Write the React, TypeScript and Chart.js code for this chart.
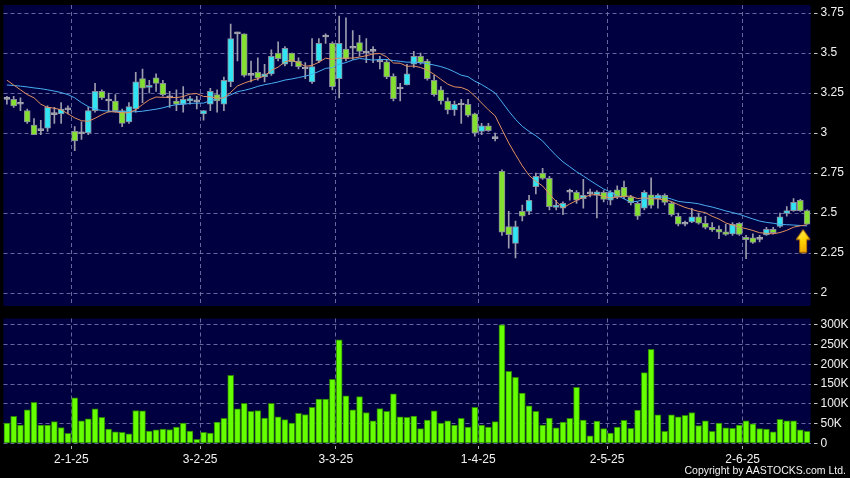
import React, { useEffect, useRef } from 'react';
import { Chart, registerables } from 'chart.js';

Chart.register(...registerables);

// ---- data (119 trading days, 16-12-24 .. 13-6-25) ----
const opens = [
  3.21, 3.21, 3.18, 3.14, 3.05, 3.015, 3.03, 3.115, 3.12, 3.145,
  3.01, 2.995, 3.0, 3.14, 3.26, 3.2, 3.2, 3.14, 3.07, 3.15,
  3.34, 3.285, 3.345, 3.31, 3.22, 3.2, 3.18, 3.2, 3.195, 3.12,
  3.18, 3.24, 3.18, 3.32, 3.62, 3.62, 3.36, 3.38, 3.35, 3.37,
  3.5, 3.43, 3.5, 3.45, 3.4, 3.32, 3.45, 3.6, 3.56, 3.34,
  3.525, 3.53, 3.565, 3.5, 3.51, 3.445, 3.445, 3.355, 3.275, 3.3,
  3.43, 3.48, 3.45, 3.33, 3.27, 3.2, 3.145, 3.175, 3.18, 3.12,
  3.01, 3.045, 2.965, 2.76, 2.415, 2.31, 2.51, 2.51, 2.665, 2.75,
  2.717, 2.535, 2.53, 2.63, 2.63, 2.59, 2.62, 2.61, 2.63, 2.58,
  2.645, 2.66, 2.6, 2.56, 2.53, 2.613, 2.59, 2.61, 2.56, 2.48,
  2.43, 2.445, 2.477, 2.436, 2.41, 2.398, 2.383, 2.37, 2.436, 2.348,
  2.345, 2.335, 2.363, 2.398, 2.416, 2.498, 2.515, 2.58, 2.515,
];
const highs = [
  3.23, 3.23, 3.22, 3.15, 3.09, 3.08, 3.17, 3.16, 3.19, 3.17,
  3.04, 3.07, 3.16, 3.31, 3.27, 3.25, 3.24, 3.15, 3.19, 3.38,
  3.4, 3.33, 3.37, 3.33, 3.26, 3.27, 3.29, 3.23, 3.23, 3.14,
  3.28, 3.27, 3.35, 3.68, 3.63, 3.62, 3.45, 3.47, 3.43, 3.52,
  3.57, 3.54, 3.5, 3.47, 3.44, 3.59, 3.59, 3.62, 3.57, 3.73,
  3.72, 3.64, 3.61, 3.59, 3.54, 3.48, 3.46, 3.37, 3.31, 3.43,
  3.51, 3.5, 3.46, 3.36, 3.29, 3.22, 3.2, 3.21, 3.21, 3.125,
  3.06, 3.06, 3.0, 2.77, 2.51, 2.45, 2.55, 2.61, 2.75, 2.78,
  2.73, 2.58, 2.57, 2.65, 2.64, 2.71, 2.65, 2.64, 2.64, 2.64,
  2.67, 2.7, 2.61, 2.57, 2.64, 2.72, 2.62, 2.62, 2.57, 2.5,
  2.45, 2.53, 2.5, 2.48, 2.44, 2.42, 2.43, 2.44, 2.44, 2.36,
  2.37, 2.36, 2.41, 2.41, 2.5, 2.54, 2.59, 2.585, 2.52,
];
const lows = [
  3.18, 3.16, 3.14, 3.06, 2.99, 2.99, 3.01, 3.06, 3.06, 3.12,
  2.89, 2.96, 2.99, 3.13, 3.21, 3.13, 3.13, 3.04, 3.06, 3.13,
  3.19, 3.25, 3.26, 3.23, 3.16, 3.14, 3.13, 3.18, 3.15, 3.08,
  3.14, 3.13, 3.14, 3.29, 3.45, 3.35, 3.32, 3.33, 3.32, 3.36,
  3.45, 3.42, 3.42, 3.4, 3.34, 3.31, 3.44, 3.56, 3.27, 3.22,
  3.45, 3.46, 3.48, 3.44, 3.44, 3.4, 3.34, 3.2, 3.2, 3.3,
  3.41, 3.43, 3.33, 3.23, 3.18, 3.12, 3.11, 3.06, 3.1, 2.98,
  2.99, 3.01, 2.95, 2.36, 2.28, 2.22, 2.45, 2.49, 2.62, 2.71,
  2.52, 2.52, 2.49, 2.58, 2.56, 2.53, 2.6, 2.47, 2.57, 2.55,
  2.59, 2.59, 2.55, 2.46, 2.52, 2.53, 2.53, 2.55, 2.48, 2.42,
  2.42, 2.44, 2.43, 2.4, 2.385, 2.34, 2.36, 2.36, 2.36, 2.215,
  2.31, 2.32, 2.36, 2.37, 2.41, 2.48, 2.51, 2.51, 2.43,
];
const closes = [
  3.21, 3.17, 3.18, 3.07, 2.99, 3.015, 3.16, 3.115, 3.15, 3.145,
  2.95, 2.995, 3.14, 3.26, 3.22, 3.2, 3.14, 3.06, 3.165, 3.32,
  3.28, 3.295, 3.31, 3.24, 3.22, 3.18, 3.21, 3.215, 3.195, 3.14,
  3.26, 3.2, 3.33, 3.59, 3.62, 3.36, 3.36, 3.345, 3.37, 3.48,
  3.465, 3.53, 3.445, 3.415, 3.4, 3.415, 3.56, 3.6, 3.29, 3.56,
  3.465, 3.53, 3.51, 3.5, 3.51, 3.445, 3.35, 3.215, 3.275, 3.37,
  3.48, 3.44, 3.34, 3.24, 3.2, 3.145, 3.18, 3.175, 3.11, 3.0,
  3.045, 3.015, 2.965, 2.38, 2.365, 2.415, 2.48, 2.58, 2.73, 2.717,
  2.54, 2.55, 2.56, 2.63, 2.58, 2.61, 2.62, 2.633, 2.585, 2.63,
  2.6, 2.6, 2.565, 2.48, 2.63, 2.548, 2.612, 2.567, 2.49, 2.43,
  2.43, 2.477, 2.436, 2.41, 2.394, 2.38, 2.367, 2.43, 2.367, 2.333,
  2.317, 2.335, 2.398, 2.377, 2.477, 2.515, 2.567, 2.515, 2.43,
];
const volumesK = [
  51, 68, 46, 85, 104, 46, 46, 55, 40, 25,
  115, 57, 62, 87, 66, 36, 29, 28, 24, 83,
  82, 31, 34, 36, 35, 41, 51, 31, 10, 28,
  26, 54, 63, 172, 87, 101, 81, 83, 64, 101,
  67, 60, 51, 76, 73, 91, 112, 112, 162, 262,
  120, 85, 118, 78, 57, 88, 81, 125, 67, 66,
  69, 37, 59, 82, 51, 57, 46, 63, 41, 91,
  46, 41, 55, 300, 182, 167, 127, 95, 81, 46,
  64, 39, 54, 63, 142, 59, 19, 56, 37, 26,
  41, 58, 38, 84, 179, 238, 72, 30, 72, 67,
  71, 78, 45, 57, 30, 51, 39, 38, 46, 57,
  49, 37, 36, 29, 61, 57, 57, 34, 30,
];
const ma10Lead = [3.33, 3.3, 3.27, 3.24, 3.22, 3.18, 3.16, 3.155, 3.145];
const ma20Lead = [
  3.3, 3.297, 3.293, 3.288, 3.282, 3.277, 3.27, 3.262, 3.253, 3.24,
  3.22, 3.19, 3.165, 3.15, 3.14, 3.137, 3.135, 3.134, 3.133,
];
const monthStartIndex = [10, 29, 49, 70, 89, 109];
const monthLabels = ['2-1-25', '3-2-25', '3-3-25', '1-4-25', '2-5-25', '2-6-25'];
const priceTicks = [2, 2.25, 2.5, 2.75, 3, 3.25, 3.5, 3.75];
const volumeTicks = [0, 50000, 100000, 150000, 200000, 250000, 300000];
const signalIndex = [118];
const signalPrice = [2.322];

// ---- styles ----
const NAVY = '#000040';
const GRID = 'rgba(120,120,175,0.85)';
const TEXT = '#f2f2f2';
const CYAN = '#30e4f4';
const LIME = '#84e030';
const DOJI = '#a8a8b0';
const FONT = { family: 'Liberation Sans, Arial, sans-serif', size: 12 };

function movingAverage(period: number, lead: number[]) {
  return closes.map((_, i) => {
    if (i < period - 1) return lead[i];
    let s = 0;
    for (let k = i - period + 1; k <= i; k++) s += closes[k];
    return s / period;
  });
}

const plotBg = {
  id: 'plotBg',
  beforeDraw(chart: any) {
    const { ctx, chartArea: a } = chart;
    ctx.save();
    ctx.fillStyle = NAVY;
    ctx.fillRect(a.left, a.top, a.right - a.left, a.bottom - a.top);
    ctx.restore();
  },
};

function makeArrow() {
  const c = document.createElement('canvas');
  c.width = 22;
  c.height = 26;
  const g = c.getContext('2d')!;
  const cx = 7;
  g.beginPath();
  g.moveTo(cx, 1);
  g.lineTo(cx + 7, 11);
  g.lineTo(cx + 3.5, 11);
  g.lineTo(cx + 3.5, 24);
  g.lineTo(cx - 3.5, 24);
  g.lineTo(cx - 3.5, 11);
  g.lineTo(cx - 7, 11);
  g.closePath();
  const grad = g.createLinearGradient(cx - 7, 0, cx + 7, 24);
  grad.addColorStop(0, '#fff27a');
  grad.addColorStop(0.5, '#ffd400');
  grad.addColorStop(1, '#e89a00');
  g.fillStyle = grad;
  g.fill();
  g.strokeStyle = '#b87000';
  g.lineWidth = 1;
  g.stroke();
  return c;
}

const xCommon = (showLabels: boolean) => ({
  type: 'linear' as const,
  min: -0.5,
  max: opens.length - 0.5,
  offset: false,
  afterBuildTicks: (scale: any) => {
    scale.ticks = monthStartIndex.map((i) => ({ value: i - 0.5 }));
  },
  afterFit: (scale: any) => {
    scale.height = showLabels ? 34.7 : 0;
    scale.paddingLeft = 0;
    scale.paddingRight = 0;
  },
  grid: {
    display: true,
    offset: false,
    color: GRID,
    lineWidth: 1,
    drawTicks: showLabels,
    tickLength: 6,
    tickColor: '#b0b0b0',
    tickBorderDash: [0, 3, 3, 0],
  },
  border: { display: false, dash: [4, 3] },
  ticks: {
    display: showLabels,
    autoSkip: false,
    maxRotation: 0,
    padding: 3,
    color: TEXT,
    font: FONT,
    callback: (v: any) => {
      const k = monthStartIndex.indexOf(Math.round(Number(v) + 0.5));
      return k >= 0 ? monthLabels[k] : '';
    },
  },
});

const yCommon = (min: number, max: number, tickValues: number[], fmt: (v: number) => string) => ({
  type: 'linear' as const,
  position: 'right' as const,
  min,
  max,
  afterBuildTicks: (scale: any) => {
    scale.ticks = tickValues.map((v) => ({ value: v }));
  },
  afterFit: (scale: any) => {
    scale.width = 39.5;
    scale.paddingTop = 0;
    scale.paddingBottom = 0;
  },
  grid: {
    color: GRID,
    lineWidth: 1,
    drawTicks: true,
    tickLength: 7,
    tickColor: '#c8c8c8',
    tickBorderDash: [0, 3, 4, 0],
  },
  border: { display: false, dash: [4, 3] },
  ticks: { color: TEXT, font: FONT, padding: 3, callback: (v: any) => fmt(Number(v)) },
});

export default function App() {
  const priceRef = useRef<HTMLCanvasElement>(null);
  const volRef = useRef<HTMLCanvasElement>(null);

  useEffect(() => {
    const idx = opens.map((_, i) => i);
    const bodyColors = idx.map((i) =>
      closes[i] > opens[i] ? CYAN : closes[i] < opens[i] ? LIME : DOJI
    );
    const bodyBorders = idx.map((i) => (closes[i] === opens[i] ? DOJI : '#8a8c9c'));
    const ma10 = movingAverage(10, ma10Lead);
    const ma20 = movingAverage(20, ma20Lead);
    const arrow = makeArrow();

    const price = new Chart(priceRef.current!, {
      type: 'bar',
      data: {
        datasets: [
          {
            type: 'line',
            data: signalIndex.map((x, k) => ({ x, y: signalPrice[k] })),
            showLine: false,
            pointStyle: arrow as any,
            pointRadius: 10,
            clip: false as any,
            order: 0,
          } as any,
          {
            type: 'line',
            data: idx.map((i) => ({ x: i, y: ma10[i] })),
            borderColor: '#e2905e',
            borderWidth: 1,
            pointRadius: 0,
            tension: 0,
            order: 1,
          },
          {
            type: 'line',
            data: idx.map((i) => ({ x: i, y: ma20[i] })),
            borderColor: '#48aef2',
            borderWidth: 1,
            pointRadius: 0,
            tension: 0,
            order: 1,
          },
          {
            type: 'bar',
            data: idx.map((i) => ({ x: i, y: [Math.min(opens[i], closes[i]), Math.max(opens[i], closes[i])] })),
            backgroundColor: bodyColors,
            borderColor: bodyBorders,
            borderWidth: 1,
            borderSkipped: false,
            barThickness: 6,
            minBarLength: 2,
            grouped: false,
            order: 2,
          } as any,
          {
            type: 'bar',
            data: idx.map((i) => ({ x: i, y: [lows[i], highs[i]] })),
            backgroundColor: '#9c9cac',
            borderWidth: 0,
            barThickness: 1,
            grouped: false,
            order: 3,
          } as any,
        ],
      },
      options: {
        responsive: false,
        animation: false,
        devicePixelRatio: 1,
        events: [],
        layout: { autoPadding: false, padding: { left: 3.5, right: 0, top: 5, bottom: 4 } },
        plugins: { legend: { display: false }, tooltip: { enabled: false } },
        scales: {
          x: xCommon(false) as any,
          y: yCommon(1.919, 3.8, priceTicks, (v) => String(Number(v.toFixed(2)))) as any,
        },
      },
      plugins: [plotBg],
    });

    const volume = new Chart(volRef.current!, {
      type: 'bar',
      data: {
        datasets: [
          {
            data: idx.map((i) => ({ x: i, y: volumesK[i] * 1000 })),
            backgroundColor: '#66ff00',
            borderColor: '#2a8200',
            borderWidth: 1,
            borderSkipped: false,
            barThickness: 6,
            grouped: false,
          } as any,
        ],
      },
      options: {
        responsive: false,
        animation: false,
        devicePixelRatio: 1,
        events: [],
        layout: { autoPadding: false, padding: { left: 3.5, right: 0, top: 8.5, bottom: 0 } },
        plugins: { legend: { display: false }, tooltip: { enabled: false } },
        scales: {
          x: xCommon(true) as any,
          y: yCommon(0, 316000, volumeTicks, (v) => (v === 0 ? '0' : v / 1000 + 'K')) as any,
        },
      },
      plugins: [plotBg],
    });

    return () => {
      price.destroy();
      volume.destroy();
    };
  }, []);

  return (
    <div style={{ position: 'absolute', left: 0, top: 0, width: 850, height: 478, background: '#000', overflow: 'hidden' }}>
      <canvas ref={priceRef} width={850} height={310} style={{ position: 'absolute', left: 0, top: 0, width: 850, height: 310 }} />
      <canvas ref={volRef} width={850} height={168} style={{ position: 'absolute', left: 0, top: 310, width: 850, height: 168 }} />
      <div
        style={{
          position: 'absolute',
          right: 4,
          top: 464,
          color: TEXT,
          font: '10.5px "Liberation Sans", Arial, sans-serif',
          lineHeight: '13px',
          whiteSpace: 'nowrap',
        }}
      >
        Copyright by AASTOCKS.com Ltd.
      </div>
    </div>
  );
}
